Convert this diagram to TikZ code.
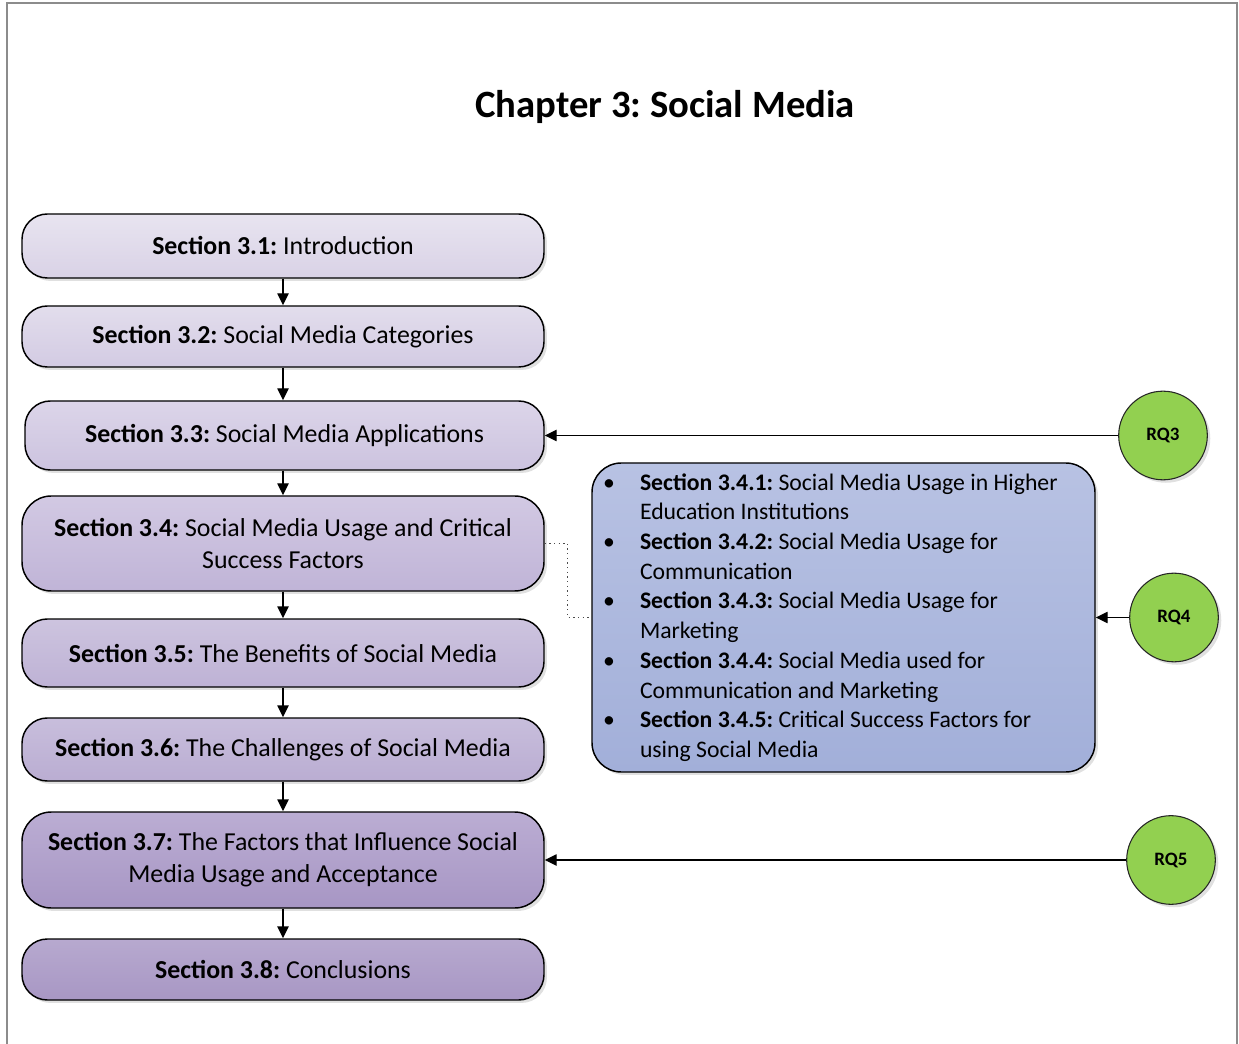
\documentclass[tikz,border=0pt]{standalone}
\usepackage{fontspec}
\setmainfont{Carlito}
\usetikzlibrary{shadows,arrows.meta}

% section box colours (top / bottom of each vertical gradient)
\definecolor{lavA}{HTML}{E8E4F0}\definecolor{lavAb}{HTML}{D9D2E6}
\definecolor{lavB}{HTML}{E2DDEC}\definecolor{lavBb}{HTML}{D3CBE3}
\definecolor{lavC}{HTML}{DCD5E9}\definecolor{lavCb}{HTML}{CCC3DF}
\definecolor{lavD}{HTML}{D2C9E3}\definecolor{lavDb}{HTML}{C0B4D7}
\definecolor{lavE}{HTML}{CDC4DF}\definecolor{lavEb}{HTML}{BEB2D5}
\definecolor{lavF}{HTML}{C8BEDC}\definecolor{lavFb}{HTML}{BAADD2}
\definecolor{lavG}{HTML}{BBADD3}\definecolor{lavGb}{HTML}{A796C4}
\definecolor{lavH}{HTML}{B7A9CF}\definecolor{lavHb}{HTML}{A897C4}
\definecolor{subTop}{HTML}{B8C2E3}\definecolor{subBot}{HTML}{A2AFD9}
\definecolor{rqGreen}{HTML}{92D050}
\definecolor{frameGray}{HTML}{8C8C8C}

\begin{document}
\frenchspacing
\begin{tikzpicture}[x=0.75pt,y=-0.75pt,
  softshadow/.style={drop shadow={shadow xshift=2.2pt,shadow yshift=-2.2pt,fill=black!40,opacity=0.3}},
  secbox/.style={draw=black, line width=1.1pt, rounded corners=19pt,
    minimum width=391.5pt, inner sep=0pt, align=center,
    font=\fontsize{19.4}{24}\selectfont, softshadow},
  rq/.style={circle, draw=black!85, line width=0.8pt, fill=rqGreen,
    minimum size=66.5pt, inner sep=0pt, font=\fontsize{14.2}{17}\selectfont\bfseries, softshadow},
  flow/.style={line width=1.1pt, -{Triangle[length=9pt,width=8.5pt]}},
  link/.style={draw=black!70, line width=0.9pt, dash pattern=on 0.9pt off 2.6pt}
]
\useasboundingbox (0,0) rectangle (1239,1044);

% page frame
\draw[frameGray, line width=1.2pt] (7,1044) -- (7,3) -- (1237,3) -- (1237,1044);

% title
\node[font=\fontsize{29}{34}\selectfont\bfseries] (title) at (665,107) {Chapter 3: Social Media};

% main sequence of sections
\node[secbox, minimum height=48pt, top color=lavA, bottom color=lavAb] (s31) at (283,246)
  {\textbf{Section 3.1:} Introduction};
\node[secbox, minimum height=45.75pt, top color=lavB, bottom color=lavBb] (s32) at (283,336.5)
  {\textbf{Section 3.2:} Social Media Categories};
\node[secbox, minimum height=51.75pt, minimum width=389.25pt, top color=lavC, bottom color=lavCb] (s33) at (284.5,435.5)
  {\textbf{Section 3.3:} Social Media Applications};
\node[secbox, minimum height=71.25pt, rounded corners=22pt, top color=lavD, bottom color=lavDb] (s34) at (283,543.5)
  {\textbf{Section 3.4:} Social Media Usage and Critical\\Success Factors};
\node[secbox, minimum height=51pt, top color=lavE, bottom color=lavEb] (s35) at (283,653)
  {\textbf{Section 3.5:} The Benefits of Social Media};
\node[secbox, minimum height=47.25pt, top color=lavF, bottom color=lavFb] (s36) at (283,749.5)
  {\textbf{Section 3.6:} The Challenges of Social Media};
\node[secbox, minimum height=72pt, rounded corners=22pt, top color=lavG, bottom color=lavGb] (s37) at (283,860)
  {\textbf{Section 3.7:} The Factors that Influence Social\\Media Usage and Acceptance};
\node[secbox, minimum height=45.75pt, top color=lavH, bottom color=lavHb] (s38) at (283,969.5)
  {\textbf{Section 3.8:} Conclusions};

% subsections of 3.4
\node[draw=black, line width=1.1pt, rounded corners=22pt, top color=subTop, bottom color=subBot,
  minimum width=377.25pt, minimum height=231.75pt, inner xsep=8.25pt, inner ysep=0pt,
  text width=360.75pt, align=flush left, font=\fontsize{17.8}{22.3}\selectfont, softshadow] (s34sub) at (843.5,617.5)
  {\makebox[27.75pt][l]{\textbullet}\textbf{Section 3.4.1:} Social Media Usage in Higher\\
   \hspace*{27.75pt}Education Institutions\\
   \makebox[27.75pt][l]{\textbullet}\textbf{Section 3.4.2:} Social Media Usage for\\
   \hspace*{27.75pt}Communication\\
   \makebox[27.75pt][l]{\textbullet}\textbf{Section 3.4.3:} Social Media Usage for\\
   \hspace*{27.75pt}Marketing\\
   \makebox[27.75pt][l]{\textbullet}\textbf{Section 3.4.4:} Social Media used for\\
   \hspace*{27.75pt}Communication and Marketing\\
   \makebox[27.75pt][l]{\textbullet}\textbf{Section 3.4.5:} Critical Success Factors for\\
   \hspace*{27.75pt}using Social Media};

% research questions
\node[rq] (rq3) at (1163,435.5) {RQ3};
\node[rq] (rq4) at (1174,617.5) {RQ4};
\node[rq] (rq5) at (1171,860) {RQ5};

% flow between sections
\draw[flow] (s31) -- (s32);
\draw[flow] (s32) -- (s33.north -| s32.south);
\draw[flow] (s33.south -| s34.north) -- (s34);
\draw[flow] (s34) -- (s35);
\draw[flow] (s35) -- (s36);
\draw[flow] (s36) -- (s37);
\draw[flow] (s37) -- (s38);

% research questions feeding sections
\draw[flow] (rq3) -- (s33);
\draw[flow] (rq4) -- (s34sub);
\draw[flow] (rq5) -- (s37);

% section 3.4 to its subsections
\draw[link] (s34.east) -- ++(23,0) |- (s34sub.west);
\end{tikzpicture}
\end{document}
